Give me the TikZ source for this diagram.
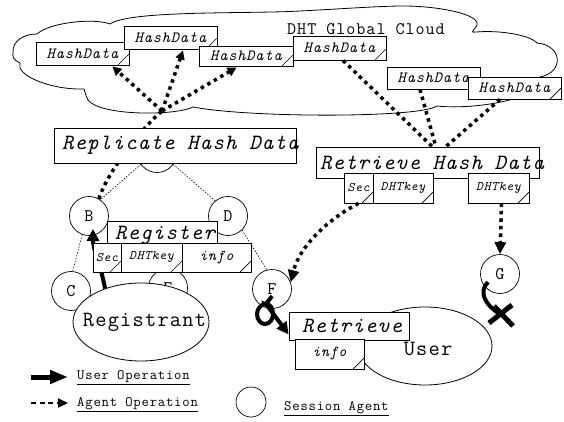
\documentclass[tikz,border=0pt]{standalone}
\usepackage{fontspec}
\setmainfont{Latin Modern Mono}[LetterSpace=5.5]
\usetikzlibrary{shapes.geometric,arrows.meta,calc}
\newcommand\fBig{\fontsize{21.8}{21.8}\selectfont\itshape}
\newcommand\fHd{\fontsize{15.6}{15.6}\selectfont\itshape}
\newcommand\fSub{\fontsize{13}{13}\selectfont\itshape}
\newcommand\fInfo{\fontsize{15}{15}\selectfont\itshape}
\newcommand\fCirc{\fontsize{17.7}{17.7}\selectfont}
\newcommand\fEll{\fontsize{21.8}{21.8}\selectfont}
\newcommand\fCloud{\fontsize{17.6}{17.6}\selectfont}
\newcommand\fLeg{\fontsize{14.3}{14.3}\selectfont}
\begin{document}
\begin{tikzpicture}[x=1pt,y=-1pt,
  foldmark/.style={path picture={\draw[line width=0.7pt] ([xshift=-11pt]path picture bounding box.south east) -- ([yshift=11pt]path picture bounding box.south east);}},
  hdbox/.style={draw, fill=white, line width=0.8pt, inner sep=0pt, minimum width=93pt, minimum height=23pt, font=\fHd, foldmark},
  subbox/.style={draw, fill=white, line width=0.8pt, inner sep=0pt, minimum height=29pt, font=\fSub, foldmark},
  bigbox/.style={draw, fill=white, line width=0.8pt, inner sep=0pt, font=\fBig},
  agentcirc/.style={circle, draw, fill=white, line width=0.7pt, minimum size=39pt, inner sep=0pt, font=\fCirc},
  ellnode/.style={ellipse, draw, fill=white, line width=0.8pt, inner sep=0pt, font=\fEll},
  agentop/.style={line width=3.5pt, dash pattern=on 3.5pt off 4pt},
  agenttip/.style={-{Triangle[length=9pt,width=9pt]}},
  bigagenttip/.style={-{Triangle[length=12pt,width=11pt]}},
  userop/.style={line width=4pt, -{Triangle[length=12pt,width=12pt]}},
  userline/.style={line width=4pt},
  treeline/.style={line width=0.6pt, dash pattern=on 1.5pt off 1.5pt},
  legtext/.style={font=\fLeg, anchor=west, inner sep=0pt}
]
\useasboundingbox (0,0) rectangle (564,422);
% cloud
\draw[line width=0.8pt, fill=white] (13,53) .. controls (12,40) and (25,34) .. (37,34)
 .. controls (50,22) and (95,18) .. (110,24)
 .. controls (130,10) and (250,14) .. (300,11)
 .. controls (340,9) and (380,6) .. (403,6)
 .. controls (440,6) and (485,15) .. (476,27)
 .. controls (473,31) and (470,33) .. (476,32)
 .. controls (500,30) and (530,35) .. (537,43)
 .. controls (562,45) and (565,72) .. (540,77)
 .. controls (545,100) and (470,110) .. (437,106)
 .. controls (420,118) and (250,118) .. (193,107)
 .. controls (175,116) and (100,116) .. (88,100)
 .. controls (86,96) and (85,92) .. (84,89)
 .. controls (50,90) and (15,75) .. (20,63)
 .. controls (14,60) and (12,57) .. (13,53) -- cycle;
\node[font=\fCloud] (cloudtitle) at (366,29) {DHT Global Cloud};

% session agents
\node[agentcirc] (A) at (157,153) {};
\node[agentcirc] (B) at (89,216) {B};
\node[agentcirc] (C) at (71,291) {C};
\node[agentcirc] (D) at (228,216) {D};
\node[agentcirc] (E) at (168,288) {E};
\node[agentcirc] (F) at (272,289) {F};
\node[agentcirc] (G) at (500,274) {G};
\draw[treeline] (A.215) -- (B.55);
\draw[treeline] (A.325) -- (D.130);
\draw[treeline] (B.250) -- (C.85);
\draw[treeline] (D.315) -- (F.105);

% hash data boxes
\node[hdbox] (hd1) at (82.5,53.5) {HashData};
\node[hdbox] (hd2) at (170.5,37.5) {HashData};
\node[hdbox, minimum width=94pt, minimum height=20pt] (hd3) at (246,56) {HashData};
\node[hdbox, minimum height=24pt] (hd4) at (339.5,48) {HashData};
\node[hdbox, minimum height=22pt] (hd5) at (433.5,78) {HashData};
\node[hdbox, minimum height=22pt] (hd6) at (514.5,88) {HashData};

% replicate operation
\coordinate (J) at (162,111);
\draw[agentop] (B.60) .. controls (108,170) and (145,125) .. (J);
\draw[agentop, agenttip] (J) -- ($(hd1.south east)+(-17,1)$);
\draw[agentop, agenttip] (J) -- ($(hd2.south)+(12.5,1)$);
\draw[agentop, agenttip] (J) -- ($(hd3.south west)+(38,1)$);
\node[bigbox, minimum width=242pt, minimum height=35pt] (rep) at (175,145.5) {\makebox[242pt][l]{\hspace{8pt}Replicate Hash Data}};

% retrieve hash data
\draw[agentop] ($(hd4.south)+(3.5,0)$) -- ($(hd4.south)+(93.5,87)$) coordinate (r1);
\draw[agentop] ($(hd5.south)+(-13.5,0)$) -- ($(hd5.south)+(2.5,58)$) coordinate (r2);
\draw[agentop] ($(hd6.south)+(-14.5,0)$) -- ($(hd6.south)+(-69.5,48)$) coordinate (r3);
\node[bigbox, minimum width=223pt, minimum height=31pt] (retr) at (427.5,162.5) {\makebox[223pt][l]{\hspace{4pt}Retrieve Hash Data}};
\node[subbox, minimum width=29pt, minimum height=30pt] (secB) at (358.5,188) {Sec};
\node[subbox, minimum width=60pt, minimum height=30pt] (keyB) at (403,188) {DHTkey};
\node[subbox, minimum width=61pt, minimum height=30pt] (keyC) at (498.5,188) {DHTkey};

% registrant
\node[ellnode, minimum width=136pt, minimum height=78pt] (regt) at (141,322) {\makebox[0pt][c]{\kern7pt Registrant}};
\draw[userop] (regt.137) .. controls (100,262) and (93,250) .. ($(B.center)+(4,13)$);
\node[bigbox, minimum width=110pt, minimum height=28pt] (reg) at (162,235) {\makebox[110pt][l]{\hspace{8pt}Register}};
\node[subbox, minimum width=28pt] (secA) at (107,257.5) {Sec};
\node[subbox, minimum width=61pt] (keyA) at (151.5,257.5) {DHTkey};
\node[subbox, minimum width=69pt, font=\fInfo] (infoA) at (216.5,257.5) {info};

% agent operations to F and G
\draw[agentop, bigagenttip] (secB.south) .. controls (330,218) and (300,245) .. (F.20);
\draw[agentop, bigagenttip] ($(keyC.south)+(3,0)$) -- (G.north);

% user
\node[ellnode, minimum width=134pt, minimum height=78pt] (user) at (425,346) {};
\node[font=\fEll, inner sep=0pt] (usertext) at (428,349) {User};
\node[bigbox, minimum width=120pt, minimum height=28pt] (rsm) at (349,326) {\makebox[120pt][l]{\hspace{13pt}Retrieve}};
\node[subbox, minimum width=69pt, minimum height=30pt, font=\fInfo] (infoB) at (329.5,354) {info};

% user operation from F with loop
\draw[userop] ($(F.center)+(0,7)$) -- (266,304)
  .. controls (261,304) and (257,309) .. (257,314)
  .. controls (257,320) and (261,324) .. (265,324)
  .. controls (270,324) and (273,319) .. (273,314)
  .. controls (273,308) and (270,304) .. (266,304)
  -- ($(rsm.south west)+(0,-6)$);

% failed operation from G
\coordinate (X) at (501,315);
\draw[userline] ($(G.center)+(-12,8)$) .. controls (478,292) and (485,305) .. (X);
\draw[line width=5pt] ($(X)+(-12,8)$) -- ($(X)+(11,-10)$);
\draw[line width=5pt] ($(X)+(-7,-9)$) -- ($(X)+(12,11)$);

% legend
\coordinate (lu1) at (31,377);
\coordinate (lu2) at (68,377);
\draw[line width=5pt, -{Triangle[length=18pt,width=13pt]}] (lu1) -- (lu2);
\node[legtext] (legU) at (77,378) {\underline{User Operation}};
\coordinate (la1) at (31,403);
\coordinate (la2) at (68,403);
\draw[line width=2pt, dash pattern=on 5pt off 3.5pt, -{Triangle[length=10pt,width=9pt]}] (la1) -- (la2);
\node[legtext] (legA) at (77,405) {\underline{Agent Operation}};
\node[circle, draw, line width=0.7pt, minimum size=30pt, inner sep=0pt] (legcirc) at (251,402) {};
\node[legtext] (legS) at (284,409) {\underline{Session Agent}};
\end{tikzpicture}
\end{document}
